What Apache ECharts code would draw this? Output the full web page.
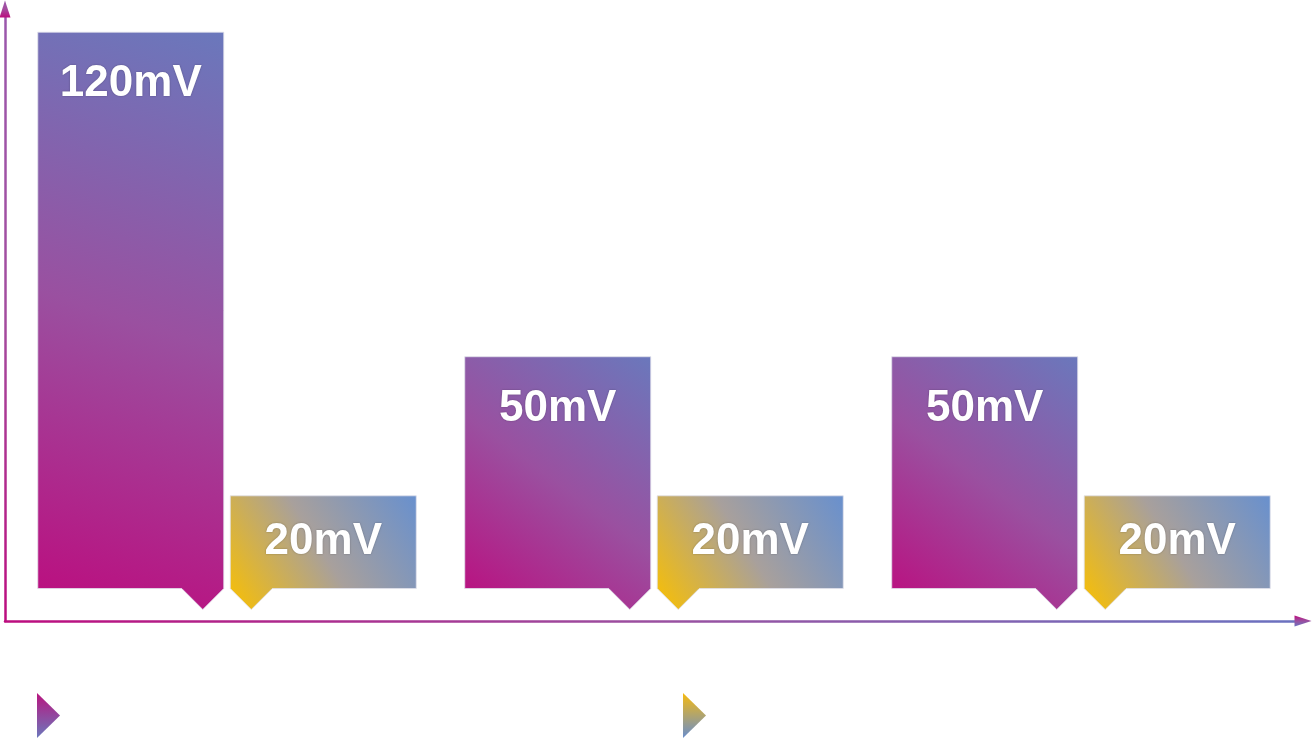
<!DOCTYPE html>
<html>
<head>
<meta charset="utf-8">
<script src="https://cdn.jsdelivr.net/npm/echarts@6/dist/echarts.min.js"></script>
<style>
html,body{margin:0;padding:0;background:#fff;}
#main{width:1313px;height:739px;}
</style>
</head>
<body>
<div id="main"></div>
<script>
// ---- data ----
const groups = [0, 1, 2];
const seriesNames = ['S1', 'S2'];
const valuesA = [120, 50, 50];
const valuesB = [20, 20, 20];
const unit = 'mV';

// ---- styling ----
const BAR_FRAC = 186 / 427;
const GAP_FRAC = 6.5 / 427;
const NOTCH_W = 42, NOTCH_H = 21;

function lg(x, y, x2, y2, c0, c1, c2) {
  const stops = c2 ? [{offset:0,color:c0},{offset:0.5,color:c1},{offset:1,color:c2}]
                   : [{offset:0,color:c0},{offset:1,color:c1}];
  return new echarts.graphic.LinearGradient(x, y, x2, y2, stops);
}
const fillA = () => lg(0, 1, 1, 0, '#BC0C7E', '#9A50A0', '#6A78BC');
const fillB = () => lg(0, 1, 1, 0, '#FAC000', '#A8A09C', '#6890CE');

function makeRender(side, fillFn, labelOffset) {
  return function (params, api) {
    const x = api.value(0), v = api.value(1);
    const c = api.coord([x, v]);
    const base = api.coord([x, 0]);
    const u = api.size([1, 0])[0];
    const w = BAR_FRAC * u, gap = GAP_FRAC * u;
    const left = side < 0 ? c[0] - gap / 2 - w : c[0] + gap / 2;
    const right = left + w;
    const top = c[1], bottom = base[1];
    let pts;
    if (side < 0) {
      pts = [[left, top], [right, top], [right, bottom],
             [right - NOTCH_W / 2, bottom + NOTCH_H], [right - NOTCH_W, bottom], [left, bottom]];
    } else {
      pts = [[left, top], [right, top], [right, bottom], [left + NOTCH_W, bottom],
             [left + NOTCH_W / 2, bottom + NOTCH_H], [left, bottom]];
    }
    return {
      type: 'group',
      children: [
        {
          type: 'polygon',
          shape: { points: pts },
          style: { fill: fillFn(), stroke: 'rgba(225,225,235,0.8)', lineWidth: 1 }
        },
        {
          type: 'text',
          style: {
            text: v + unit,
            x: (left + right) / 2,
            y: top + labelOffset,
            align: 'center',
            verticalAlign: 'middle',
            fill: '#ffffff',
            font: 'bold 44px "Liberation Sans", Arial, sans-serif',
            textShadowColor: 'rgba(0,0,0,0.3)',
            textShadowBlur: 2
          }
        }
      ]
    };
  };
}

const triIcon = 'path://M0,0L23,22.5L0,45Z';

const chart = echarts.init(document.getElementById('main'), null, { renderer: 'canvas' });
chart.setOption({
  backgroundColor: '#ffffff',
  animation: false,
  grid: { left: 5, right: 10, top: 9, bottom: 118 },
  legend: [
    {
      data: [{ name: seriesNames[0], itemStyle: { color: lg(0, 0, 0, 1, '#B8157F', '#6C78BC') } }],
      left: 37, top: 693, itemWidth: 23, itemHeight: 45, icon: triIcon, symbolKeepAspect: false,
      padding: 0, formatter: () => '', selectedMode: false
    },
    {
      data: [{ name: seriesNames[1], itemStyle: { color: lg(0, 0, 0, 1, '#F6BA10', '#6A8ECC') } }],
      left: 683, top: 693, itemWidth: 23, itemHeight: 45, icon: triIcon, symbolKeepAspect: false,
      padding: 0, formatter: () => '', selectedMode: false
    }
  ],
  xAxis: {
    type: 'value',
    min: -0.52, max: 2.52,
    axisLine: {
      show: true, onZero: false,
      symbol: ['none', 'triangle'], symbolSize: [11, 17],
      lineStyle: { width: 2.5, color: lg(0, 0, 1, 0, '#BC0C7E', '#9A50A0', '#6A72C0') }
    },
    axisTick: { show: false },
    axisLabel: { show: false },
    splitLine: { show: false }
  },
  yAxis: {
    type: 'value',
    min: -7, max: 125,
    axisLine: {
      show: true, onZero: false,
      symbol: ['none', 'triangle'], symbolSize: [11, 17],
      lineStyle: { width: 2.5, color: lg(0, 1, 0, 0, '#BC0C7E', '#A34C9E', '#9A58AC') }
    },
    axisTick: { show: false },
    axisLabel: { show: false },
    splitLine: { show: false }
  },
  series: [
    {
      name: seriesNames[0],
      type: 'custom',
      renderItem: makeRender(-1, fillA, 52),
      itemStyle: { color: '#A04898' },
      data: groups.map((g, i) => [g, valuesA[i]])
    },
    {
      name: seriesNames[1],
      type: 'custom',
      renderItem: makeRender(1, fillB, 46),
      itemStyle: { color: '#C8A860' },
      data: groups.map((g, i) => [g, valuesB[i]])
    }
  ]
});
</script>
</body>
</html>
